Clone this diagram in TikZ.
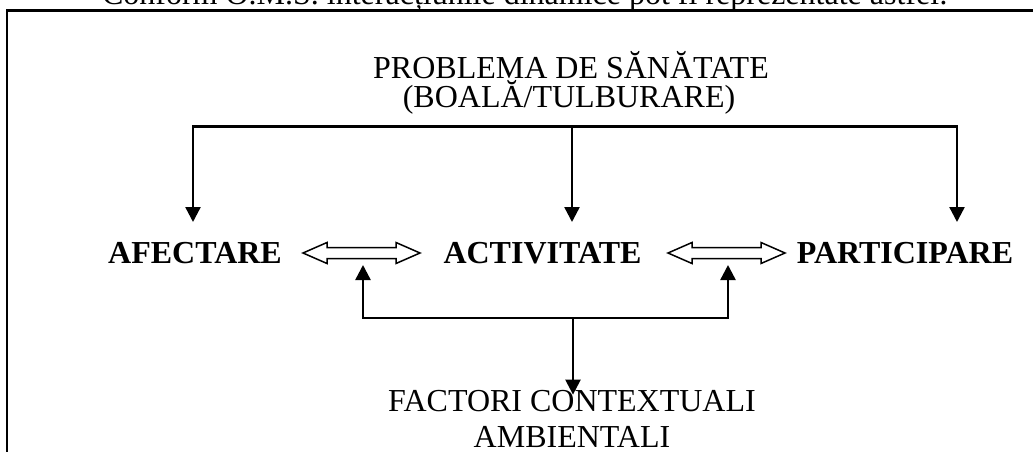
\documentclass[tikz,border=0pt]{standalone}
\usepackage{fontspec}
\setmainfont{Liberation Serif}
\usetikzlibrary{arrows.meta,calc}
\tikzset{
  lbl/.style={inner sep=0pt, anchor=base, font=\fontsize{32}{36}\selectfont},
  blbl/.style={lbl, font=\fontsize{32}{36}\selectfont\bfseries},
  conn/.style={line width=2.4pt, line join=miter},
  tip/.tip={Triangle[length=15pt,width=15pt]},
  arr/.style={conn, -tip},
  arrboth/.style={conn, tip-tip},
  dbl/.style={line width=1.5pt, line join=miter},
  frame/.style={line width=2.8pt},
  pics/dblarrow/.style={code={
    \draw[dbl] (-58.5,0) -- (-34.5,10.5) -- (-34.5,5.5) -- (34.5,5.5) -- (34.5,10.5)
      -- (58.5,0) -- (34.5,-10.5) -- (34.5,-5.5) -- (-34.5,-5.5) -- (-34.5,-10.5) -- cycle;
  }}
}
\begin{document}
\begin{tikzpicture}[x=1pt,y=1pt]
\useasboundingbox (0,0) rectangle (1033,-452);
\clip (0,0) rectangle (1033,-452);
% caption (cut off at top, as in the reference)
\node[lbl] (cap) at (525,-5) {Conform O.M.S. interacțiunile dinamice pot fi reprezentate astfel:};
% frame
\draw[frame] (7,-470) -- (7,-10.5) -- (1050,-10.5);
% labels
\node[lbl] (prob) at (571,-78) {PROBLEMA DE SĂNĂTATE};
\node[lbl] (probb) at (569,-107) {(BOALĂ/TULBURARE)};
\node[blbl] (afe) at (195,-263.3) {AFECTARE};
\node[blbl] (act) at (542.5,-263.3) {ACTIVITATE};
\node[blbl] (par) at (905,-263.3) {PARTICIPARE};
\node[lbl] (fac) at (572,-411) {FACTORI CONTEXTUALI};
\node[lbl] (facb) at (572,-447.7) {AMBIENTALI};
% top bus
\coordinate (bl) at (193,-126.5);
\coordinate (bm) at (572,-126.5);
\coordinate (br) at (957,-126.5);
\coordinate (tafe) at (193,-222);
\coordinate (tact) at (572,-222);
\coordinate (tpar) at (957,-222);
\draw[arrboth] (tafe) -- (bl) -- (br) -- (tpar);
\draw[arr] (bm) -- (tact);
% double arrows
\coordinate (dl) at (361.5,-253);
\coordinate (dr) at (726.5,-253);
\pic at (dl) {dblarrow};
\pic at (dr) {dblarrow};
% bottom bus
\coordinate (ul) at (363,-318);
\coordinate (ur) at (728,-318);
\coordinate (um) at (573,-318);
\coordinate (tl) at (363,-265);
\coordinate (tr) at (728,-265);
\draw[arrboth] (tl) -- (ul) -- (ur) -- (tr);
\draw[arr, shorten >=-5pt] (um) -- (um |- fac.north);
\end{tikzpicture}
\end{document}
